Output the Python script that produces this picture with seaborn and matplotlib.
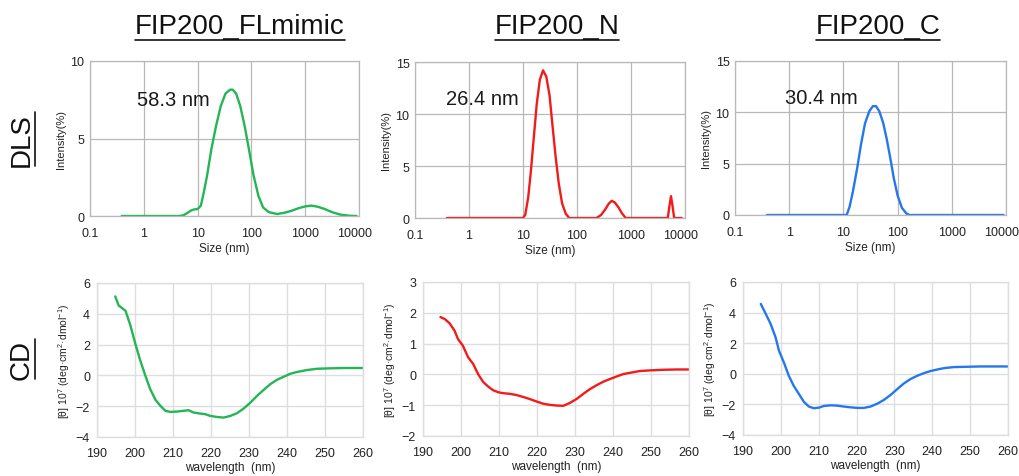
import matplotlib
matplotlib.use("Agg")
import matplotlib.pyplot as plt
from matplotlib.lines import Line2D
from matplotlib.transforms import ScaledTranslation
import seaborn as sns
import pandas as pd

# ---------------- data ----------------
titles = ["FIP200_FLmimic", "FIP200_N", "FIP200_C"]
peak_labels = ["58.3 nm", "26.4 nm", "30.4 nm"]
colors = ["#24b556", "#f21b1b", "#2577ee"]

dls_fl_size = [0.39, 1, 4.6, 5.5, 6.5, 7.5, 8.5, 10, 11.5, 13, 15, 18, 22, 27, 33, 40, 45,
               52, 62, 75, 90, 110, 135, 165, 210, 300, 400, 550, 750, 1000, 1300, 1700,
               2300, 3200, 4500, 6500, 9000]
dls_fl_int = [0, 0, 0, 0.05, 0.2, 0.35, 0.42, 0.45, 0.67, 1.5, 2.6, 4.3, 5.8, 7.1, 7.9, 8.15, 8.15,
              7.9, 7.1, 5.8, 4.3, 2.6, 1.3, 0.55, 0.25, 0.13, 0.2, 0.33, 0.5, 0.62, 0.67, 0.6,
              0.45, 0.24, 0.09, 0.02, 0]

dls_n_size = [0.39, 10, 11, 12.5, 14, 16, 18, 20.5, 23.5, 27, 31, 35, 40, 46, 53, 62, 72,
              230, 280, 330, 390, 440, 500, 590, 680, 800, 4800, 5100, 5500, 5900, 6300, 8700]
dls_n_int = [0, 0, 0.3, 2, 4.5, 8, 11, 13.3, 14.2, 13.6, 11.8, 9, 6, 3.3, 1.4, 0.4, 0,
             0, 0.3, 0.8, 1.4, 1.65, 1.5, 1.0, 0.45, 0, 0, 1.0, 2.1, 1.1, 0, 0]

dls_c_size = [0.39, 11.5, 13, 15, 18, 21, 25, 30, 35, 40, 46, 54, 63, 73, 85, 100, 120, 145,
              165, 9000]
dls_c_int = [0, 0, 0.8, 2.3, 4.6, 6.8, 8.9, 10.1, 10.6, 10.6, 10.1, 9.0, 7.4, 5.6, 3.6, 1.9,
             0.7, 0.15, 0, 0]

cd_fl_wl = [194.8, 195.7, 196.6, 197.5, 198.8, 200.1, 201.4, 202.7, 204.0, 205.4, 206.7, 208.0,
            209.3, 211.0, 212.8, 214.1, 215.4, 217.2, 218.5, 219.8, 221.6, 223.3, 225.1, 226.8,
            228.6, 230.4, 232.1, 233.9, 235.6, 237.4, 239.1, 240.9, 242.6, 245.3, 247.9, 251.4,
            254.9, 260.0]
cd_fl_val = [5.13, 4.54, 4.37, 4.2, 3.24, 2.04, 0.96, 0.0, -0.89, -1.59, -1.98, -2.3,
             -2.37, -2.35, -2.3, -2.26, -2.41, -2.48, -2.52, -2.63, -2.7, -2.74, -2.63, -2.46,
             -2.15, -1.76, -1.33, -0.93, -0.57, -0.28, -0.09, 0.11, 0.22, 0.35, 0.43, 0.46,
             0.48, 0.48]

cd_n_wl = [194.6, 195.7, 197.0, 198.3, 199.2, 200.5, 201.9, 203.2, 204.5, 205.8, 207.1, 208.4,
           209.8, 211.1, 212.8, 214.6, 216.3, 218.1, 219.9, 221.6, 223.4, 225.1, 226.9, 228.6,
           230.4, 232.1, 233.9, 235.7, 237.4, 239.2, 240.9, 242.7, 244.4, 247.1, 249.7, 253.2,
           256.8, 260.0]
cd_n_val = [1.86, 1.8, 1.66, 1.42, 1.15, 0.93, 0.55, 0.34, 0.01, -0.24, -0.39, -0.51,
            -0.58, -0.61, -0.63, -0.67, -0.73, -0.8, -0.88, -0.95, -0.99, -1.01, -1.02, -0.93,
            -0.8, -0.64, -0.48, -0.35, -0.24, -0.15, -0.07, 0.01, 0.05, 0.11, 0.13, 0.15,
            0.16, 0.16]

cd_c_wl = [194.7, 196.0, 197.3, 198.6, 199.5, 200.8, 202.1, 203.4, 204.8, 206.1, 207.4, 208.7,
           210.1, 211.4, 213.1, 214.9, 216.6, 218.4, 220.2, 221.9, 223.7, 225.5, 227.2, 229.0,
           230.7, 232.5, 234.2, 236.0, 237.8, 239.5, 241.3, 243.1, 245.7, 249.2, 252.7, 256.2,
           260.0]
cd_c_val = [4.57, 3.92, 3.26, 2.39, 1.51, 0.74, -0.13, -0.79, -1.33, -1.84, -2.14, -2.25,
            -2.21, -2.1, -2.06, -2.08, -2.14, -2.19, -2.23, -2.23, -2.14, -1.95, -1.71, -1.38,
            -1.01, -0.63, -0.35, -0.13, 0.04, 0.18, 0.28, 0.37, 0.44, 0.46, 0.48, 0.48,
            0.48]

dls_ticks = [0.1, 1, 10, 100, 1000, 10000]
dls_ticklabels = ["0.1", "1", "10", "100", "1000", "10000"]
dls_ylims = [(0, 10), (0, 15), (0, 15)]
dls_yticks = [[0, 5, 10], [0, 5, 10, 15], [0, 5, 10, 15]]
cd_xticks = [190, 200, 210, 220, 230, 240, 250, 260]
cd_ylims = [(-4, 6), (-2, 3), (-4, 6)]
cd_yticks = [[-4, -2, 0, 2, 4, 6], [-2, -1, 0, 1, 2, 3], [-4, -2, 0, 2, 4, 6]]
label_pos = [(0.75, 7.5), (0.38, 11.5), (0.85, 11.4)]

# ---------------- style ----------------
sns.set_theme(style="whitegrid")
plt.rcParams["font.family"] = ["Liberation Sans", "DejaVu Sans"]
plt.rcParams["mathtext.fontset"] = "custom"
plt.rcParams["mathtext.rm"] = "Liberation Sans"
plt.rcParams["mathtext.it"] = "Liberation Sans"

W, H = 1019, 477
fig = plt.figure(figsize=(W / 100, H / 100), dpi=100)
fig.patch.set_facecolor("white")


def rect(l, r, t, b):
    return [l / W, 1 - b / H, (r - l) / W, (b - t) / H]


dls_rects = [rect(90, 359, 62, 217), rect(415, 685, 63, 219), rect(735, 1006, 62, 216)]
cd_rects = [rect(97, 363, 284, 438), rect(423, 689, 283, 437), rect(743, 1008, 283, 436)]

dls_data = [(dls_fl_size, dls_fl_int), (dls_n_size, dls_n_int), (dls_c_size, dls_c_int)]
cd_data = [(cd_fl_wl, cd_fl_val), (cd_n_wl, cd_n_val), (cd_c_wl, cd_c_val)]

tick_color = "#222222"

for i in range(3):
    # ---- DLS ----
    ax = fig.add_axes(dls_rects[i])
    ax.set_xscale("log")
    df = pd.DataFrame({"size": dls_data[i][0], "intensity": dls_data[i][1]})
    sns.lineplot(data=df, x="size", y="intensity", ax=ax, color=colors[i], lw=1.7,
                 sort=False, estimator=None)
    ax.set_xlim(0.1, 10000)
    ax.set_ylim(*dls_ylims[i])
    ax.set_xticks(dls_ticks)
    ax.set_xticklabels(dls_ticklabels)
    ax.minorticks_off()
    ax.set_yticks(dls_yticks[i])
    ax.grid(True, color="#b8b8b8", lw=0.9)
    for s in ax.spines.values():
        s.set_color("#b8b8b8")
        s.set_linewidth(0.9)
    ax.tick_params(length=0, labelsize=9, colors=tick_color)
    ax.tick_params(axis="x", pad=8)
    ax.tick_params(axis="y", pad=4)
    # last tick label sits slightly inside the right edge
    last = ax.get_xticklabels()[-1]
    last.set_transform(last.get_transform() + ScaledTranslation(-4 / 100, 0, fig.dpi_scale_trans))
    ax.set_xlabel("Size (nm)", fontsize=8.5, color=tick_color, labelpad=2)
    ax.set_ylabel("Intensity(%)", fontsize=8, color=tick_color, labelpad=3)
    ax.text(label_pos[i][0], label_pos[i][1], peak_labels[i], fontsize=14.5,
            color="#1a1a1a", ha="left", va="center")

    # ---- CD ----
    ax2 = fig.add_axes(cd_rects[i])
    df2 = pd.DataFrame({"wl": cd_data[i][0], "val": cd_data[i][1]})
    sns.lineplot(data=df2, x="wl", y="val", ax=ax2, color=colors[i], lw=1.7,
                 sort=False, estimator=None)
    ax2.set_xlim(190, 260)
    ax2.set_ylim(*cd_ylims[i])
    ax2.set_xticks(cd_xticks)
    ax2.set_yticks(cd_yticks[i])
    ax2.grid(True, color="#dedede", lw=1.0)
    for s in ax2.spines.values():
        s.set_color("#dedede")
        s.set_linewidth(1.0)
    ax2.tick_params(length=0, labelsize=9, colors=tick_color)
    ax2.tick_params(axis="x", pad=7)
    ax2.tick_params(axis="y", pad=5)
    ax2.set_xlabel("wavelength  (nm)", fontsize=8.5, color=tick_color, labelpad=1.5)
    ax2.set_ylabel(r"[θ] 10$^{7}$ (deg·cm$^{2}$·dmol$^{-1}$)", fontsize=7.5,
                   color=tick_color, labelpad=3)

# ---------------- titles with underline ----------------
title_centers = [240, 557, 878]
fig.canvas.draw()
renderer = fig.canvas.get_renderer()
for cx, t in zip(title_centers, titles):
    txt = fig.text(cx / W, 1 - 27 / H, t, fontsize=20, ha="center", va="center",
                   color="#111111")
    bb = txt.get_window_extent(renderer=renderer)
    y_ul = 1 - 41 / H
    fig.add_artist(Line2D([bb.x0 / W, bb.x1 / W], [y_ul, y_ul], color="#111111", lw=1.2,
                          transform=fig.transFigure))

for cy, t in [(140, "DLS"), (360, "CD")]:
    txt = fig.text(22 / W, 1 - cy / H, t, fontsize=20, rotation=90, ha="center",
                   va="center", color="#111111")
    bb = txt.get_window_extent(renderer=renderer)
    x_ul = 35 / W
    fig.add_artist(Line2D([x_ul, x_ul], [bb.y0 / H, bb.y1 / H], color="#111111", lw=1.2,
                          transform=fig.transFigure))

fig.savefig("out.png", dpi=100, facecolor="white")
